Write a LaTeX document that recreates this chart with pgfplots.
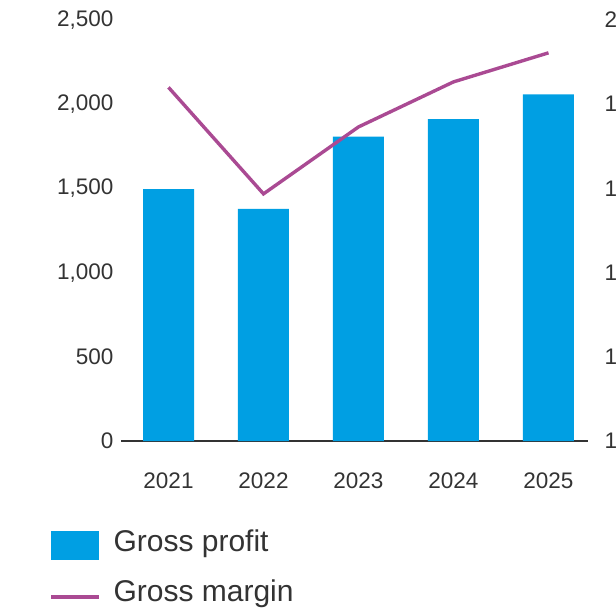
\documentclass[border=0pt]{standalone}
\usepackage{fontspec}
\setmainfont{Liberation Sans}
\usepackage{pgfplots}
\pgfplotsset{compat=1.18}
\definecolor{gpblue}{HTML}{009FE3}
\definecolor{gmpurple}{HTML}{AA4A93}
\definecolor{txtgray}{HTML}{333333}

\pgfplotstableread{
x  profit margin
0  1495   18.40
1  1379   15.87
2  1807   17.46
3  1912   18.53
4  2059   19.22
}\gpdata

\begin{document}
\begin{tikzpicture}
\pgfplotsset{
    base/.style={
        scale only axis,
        width=467bp, height=421bp,
        at={(121bp,-441bp)}, anchor=south west,
        xmin=-0.5, xmax=4.416,
        tick label style={font=\fontsize{22.5bp}{26bp}\selectfont, text=txtgray},
        /pgf/number format/assume math mode=true,
        major tick length=0pt,
        clip=false,
    }
}
% left axis: gross profit bars
\begin{axis}[
    base,
    ymin=0, ymax=2500,
    ytick={0,500,...,2500},
    xtick=data,
    xticklabels={2021,2022,2023,2024,2025},
    xticklabel style={yshift=-28bp},
    axis x line=bottom,
    axis y line=none,
    axis line style={txtgray, line width=1.2bp, -},
]
\addplot[ybar, bar width=51bp, fill=gpblue, draw=none] table[x=x, y=profit] {\gpdata};
\end{axis}
% left tick labels
\begin{axis}[
    base,
    ymin=0, ymax=2500,
    ytick={0,500,...,2500},
    yticklabel style={/pgf/number format/1000 sep={,}, xshift=-4bp},
    xtick=\empty,
    axis x line=none,
    axis y line*=left,
    y axis line style={draw=none},
]
\addplot[draw=none] coordinates {(0,0)};
\end{axis}
% right axis: gross margin line
\begin{axis}[
    base,
    ymin=10, ymax=20,
    ytick={10,12,...,20},
    yticklabel={\pgfmathprintnumber{\tick}\%},
    yticklabel style={anchor=west, xshift=13bp},
    xtick=\empty,
    axis x line=none,
    axis y line*=right,
    y axis line style={draw=none},
]
\addplot[gmpurple, line width=3.4bp, line join=miter] table[x=x, y=margin] {\gpdata};
\end{axis}
% legend
\fill[gpblue] (51bp,-531bp) rectangle (99bp,-560bp);
\node[anchor=west, text=txtgray, font=\fontsize{30bp}{33bp}\selectfont] at (110bp,-544bp) {Gross profit};
\draw[gmpurple, line width=4bp] (51bp,-597bp) -- (99bp,-597bp);
\node[anchor=west, text=txtgray, font=\fontsize{30bp}{33bp}\selectfont] at (110bp,-594bp) {Gross margin};
\pgfresetboundingbox
\useasboundingbox (0,0) rectangle (616bp,-612bp);
\end{tikzpicture}
\end{document}
